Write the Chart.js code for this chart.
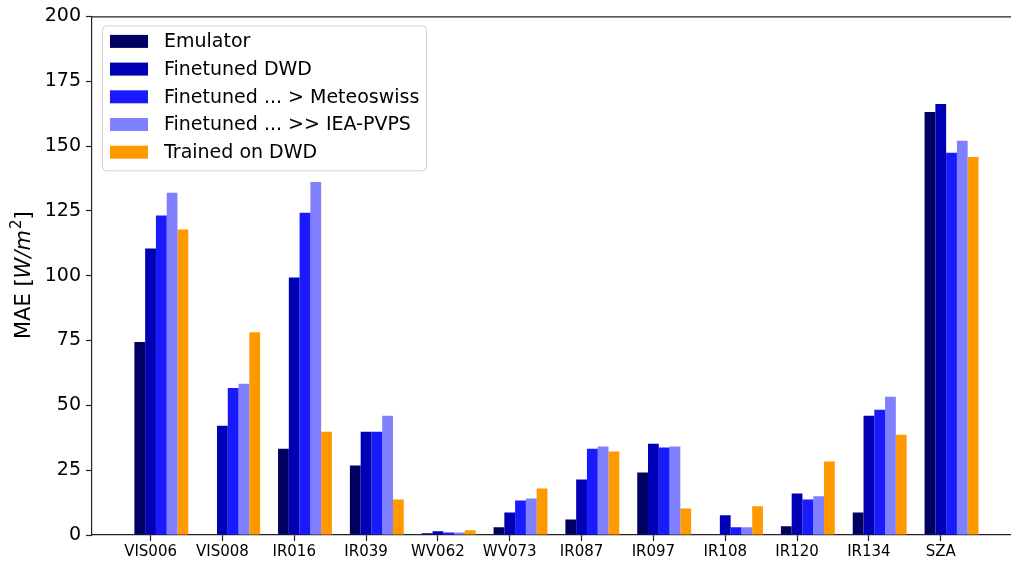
<!DOCTYPE html>
<html>
<head>
<meta charset="utf-8">
<script src="https://cdn.jsdelivr.net/npm/chart.js@4.4.1/dist/chart.umd.min.js"></script>
<style>
  html, body { margin: 0; padding: 0; background: #fff; }
  #wrap { width: 1011px; height: 566px; }
</style>
</head>
<body>
<div id="wrap"><canvas id="maeChart" width="1011" height="566"></canvas></div>
<script>
const channels = ["VIS006", "VIS008", "IR016", "IR039", "WV062", "WV073", "IR087", "IR097", "IR108", "IR120", "IR134", "SZA"];
const emulator = [74.4, null, 33.3, 26.8, 0.65, 3.0, 6.0, 24.1, null, 3.4, 8.7, 163.1];
const finetunedDwd = [110.5, 42.1, 99.3, 39.8, 1.4, 8.7, 21.4, 35.2, 7.6, 16.0, 46.0, 166.2];
const finetunedMeteo = [123.2, 56.7, 124.3, 39.8, 1.0, 13.3, 33.3, 33.7, 3.0, 13.7, 48.3, 147.4];
const finetunedIea = [132.0, 58.3, 136.1, 46.0, 1.0, 14.1, 34.1, 34.1, 3.0, 14.9, 53.3, 152.0];
const trainedDwd = [117.8, 78.2, 39.8, 13.7, 1.8, 17.9, 32.2, 10.2, 11.1, 28.3, 38.7, 145.8];
const yTicks = [0, 25, 50, 75, 100, 125, 150, 175, 200];

const FONT = "'DejaVu Sans', sans-serif";
const BAR_W = 0.15; // one bar in category units; tick sits under the 2nd bar

// groups are shifted so the category tick lands on the second bar
const toPoints = (vals) => vals.map((v, i) => ({ x: i + BAR_W, y: v }));

const series = [
  { label: "Emulator", data: emulator, color: "#000062" },
  { label: "Finetuned DWD", data: finetunedDwd, color: "#0000b4" },
  { label: "Finetuned ... > Meteoswiss", data: finetunedMeteo, color: "#1a1aff" },
  { label: "Finetuned ... >> IEA-PVPS", data: finetunedIea, color: "#8080ff" },
  { label: "Trained on DWD", data: trainedDwd, color: "#ff9900" },
];

// top spine (right spine is cut off in the original)
const frame = {
  id: "frame",
  afterDatasetsDraw(chart) {
    const { ctx, chartArea: a } = chart;
    ctx.save();
    ctx.strokeStyle = "#222";
    ctx.lineWidth = 1.2;
    ctx.beginPath();
    ctx.moveTo(a.left, a.top + 0.5);
    ctx.lineTo(a.right, a.top + 0.5);
    ctx.stroke();
    ctx.restore();
  },
};

// boxed legend in the upper left, matplotlib style
const boxLegend = {
  id: "boxLegend",
  afterDraw(chart) {
    const { ctx, chartArea: a } = chart;
    const x0 = a.left + 10, y0 = a.top + 9, w = 324, h = 145;
    ctx.save();
    ctx.fillStyle = "rgba(255,255,255,0.85)";
    ctx.strokeStyle = "#d0d0d0";
    ctx.lineWidth = 1;
    ctx.beginPath();
    ctx.roundRect(x0 + 0.5, y0 + 0.5, w, h, 4);
    ctx.fill();
    ctx.stroke();
    ctx.font = "19px " + FONT;
    ctx.textBaseline = "middle";
    ctx.textAlign = "left";
    chart.data.datasets.forEach((ds, i) => {
      const cy = y0 + 16 + i * 27.7;
      ctx.fillStyle = ds.backgroundColor;
      ctx.fillRect(x0 + 8, cy - 6.5, 38, 13);
      ctx.fillStyle = "#000";
      ctx.fillText(ds.label, x0 + 62, cy + 1);
    });
    ctx.restore();
  },
};

// y title with italic unit and superscript
const yTitle = {
  id: "yTitle",
  afterDraw(chart) {
    const { ctx, chartArea: a } = chart;
    const parts = [
      { t: "MAE [", f: "21px " + FONT, dy: 0 },
      { t: "W/m", f: "italic 21px " + FONT, dy: 0 },
      { t: "2", f: "15px " + FONT, dy: -8 },
      { t: "]", f: "21px " + FONT, dy: 0 },
    ];
    ctx.save();
    let total = 0;
    parts.forEach((p) => { ctx.font = p.f; p.w = ctx.measureText(p.t).width; total += p.w; });
    ctx.translate(24, (a.top + a.bottom) / 2);
    ctx.rotate(-Math.PI / 2);
    ctx.fillStyle = "#000";
    ctx.textBaseline = "middle";
    ctx.textAlign = "left";
    let x = -total / 2;
    parts.forEach((p) => { ctx.font = p.f; ctx.fillText(p.t, x, p.dy + 1); x += p.w + (p.t === "W/m" ? 1 : 0); });
    ctx.restore();
  },
};

new Chart(document.getElementById("maeChart"), {
  type: "bar",
  data: {
    datasets: series.map((s) => ({
      label: s.label,
      data: toPoints(s.data),
      backgroundColor: s.color,
      borderColor: s.color,
      borderWidth: 0,
      categoryPercentage: 0.75,
      barPercentage: 1.0,
    })),
  },
  options: {
    responsive: false,
    animation: false,
    layout: { padding: { left: 0, right: 0, top: 14, bottom: 0 } },
    plugins: {
      legend: { display: false },
      tooltip: { enabled: false },
    },
    scales: {
      x: {
        type: "linear",
        offset: false,
        min: -0.815,
        max: 11.978,
        afterBuildTicks: (s) => { s.ticks = channels.map((_, i) => ({ value: i })); },
        afterFit: (s) => { s.height = 31; },
        ticks: {
          autoSkip: false,
          maxRotation: 0,
          color: "#000",
          font: { family: FONT, size: 15 },
          padding: 2,
          callback: (v) => channels[v],
        },
        grid: { offset: false, drawOnChartArea: false, drawTicks: true, tickLength: 6, tickColor: "#222", tickWidth: 1.2 },
        border: { color: "#222", width: 1.2 },
      },
      y: {
        min: 0,
        max: 200,
        afterBuildTicks: (s) => { s.ticks = yTicks.map((v) => ({ value: v })); },
        afterFit: (s) => { s.width = 92; },
        ticks: {
          color: "#000",
          font: { family: FONT, size: 19 },
          padding: 5,
        },
        grid: { drawOnChartArea: false, drawTicks: true, tickLength: 6, tickColor: "#222", tickWidth: 1.2 },
        border: { color: "#222", width: 1.2 },
      },
    },
  },
  plugins: [frame, boxLegend, yTitle],
});
</script>
</body>
</html>
